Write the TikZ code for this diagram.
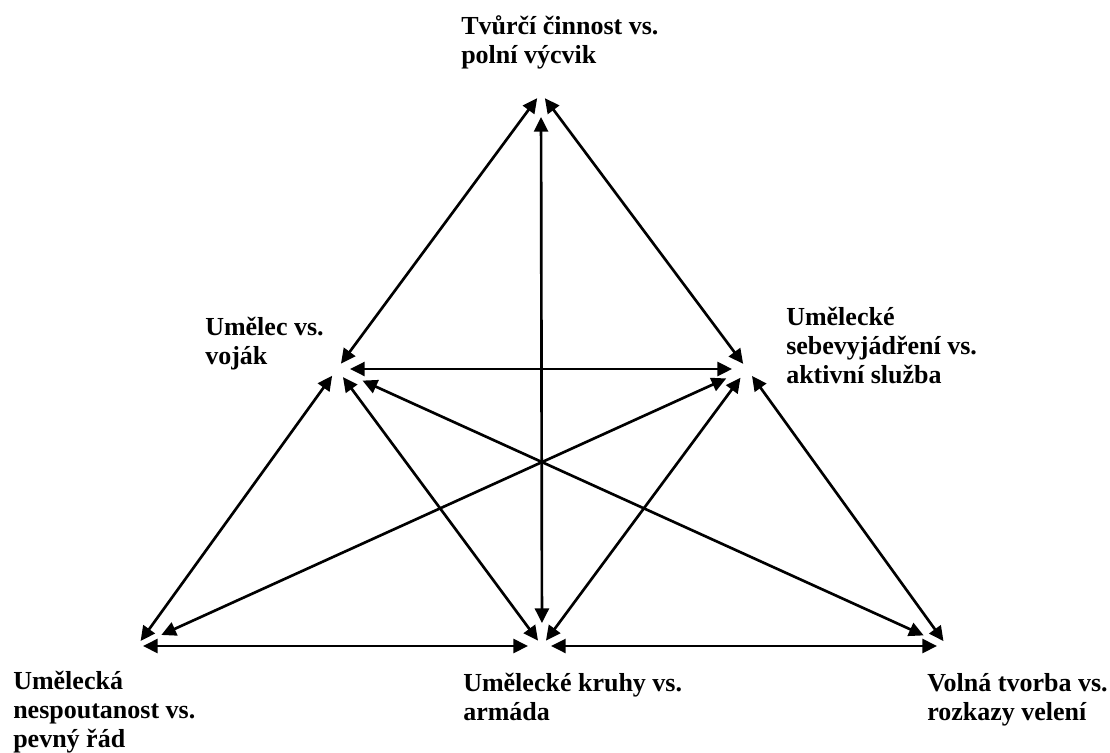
\documentclass[tikz,border=0pt]{standalone}
\usepackage{fontspec}
\setmainfont{Liberation Serif}
\usetikzlibrary{arrows.meta}
\tikzset{
  link/.style={<->,>={Triangle[length=11pt,width=10.5pt]},line width=2pt},
  lbl/.style={anchor=base west,inner sep=0pt,align=left,font=\bfseries\fontsize{19.5}{21.5}\selectfont}
}
\begin{document}
\begin{tikzpicture}[x=0.75pt,y=-0.75pt]
\useasboundingbox (0,0) rectangle (1110,753);
\coordinate (top) at (541,93);
\coordinate (lm) at (337,369);
\coordinate (rm) at (747,369);
\coordinate (bl) at (137,646);
\coordinate (bm) at (542,646);
\coordinate (br) at (947,646);
\node[lbl] (ttop) at (461,63) {Tvůrčí činnost vs.\\polní výcvik};
\node[lbl] (tlm) at (205,364) {Umělec vs.\\voják};
\node[lbl] (trm) at (786,383) {Umělecké\\sebevyjádření vs.\\aktivní služba};
\node[lbl] (tbl) at (13,747) {Umělecká\\nespoutanost vs.\\pevný řád};
\node[lbl] (tbm) at (463,720) {Umělecké kruhy vs.\\armáda};
\node[lbl] (tbr) at (927,720) {Volná tvorba vs.\\rozkazy velení};
\draw[link,shorten <=4.8pt,shorten >=5pt] (top)--(lm);
\draw[link,shorten <=4.8pt,shorten >=4.8pt] (top)--(rm);
\draw[link,shorten <=18pt,shorten >=17.2pt] (top)--(bm);
\draw[link,shorten <=9.8pt,shorten >=11.2pt] (lm)--(rm);
\draw[link,shorten <=6.2pt,shorten >=4.6pt] (lm)--(bl);
\draw[link,shorten <=7.5pt,shorten >=5pt] (lm)--(bm);
\draw[link,shorten <=21pt,shorten >=19.2pt] (lm)--(br);
\draw[link,shorten <=17.1pt,shorten >=20pt] (rm)--(bl);
\draw[link,shorten <=8.2pt,shorten >=5pt] (rm)--(bm);
\draw[link,shorten <=6.4pt,shorten >=4.5pt] (rm)--(br);
\draw[link,shorten <=4.5pt,shorten >=10.5pt] (bl)--(bm);
\draw[link,shorten <=6.8pt,shorten >=7.5pt] (bm)--(br);
\end{tikzpicture}
\end{document}
